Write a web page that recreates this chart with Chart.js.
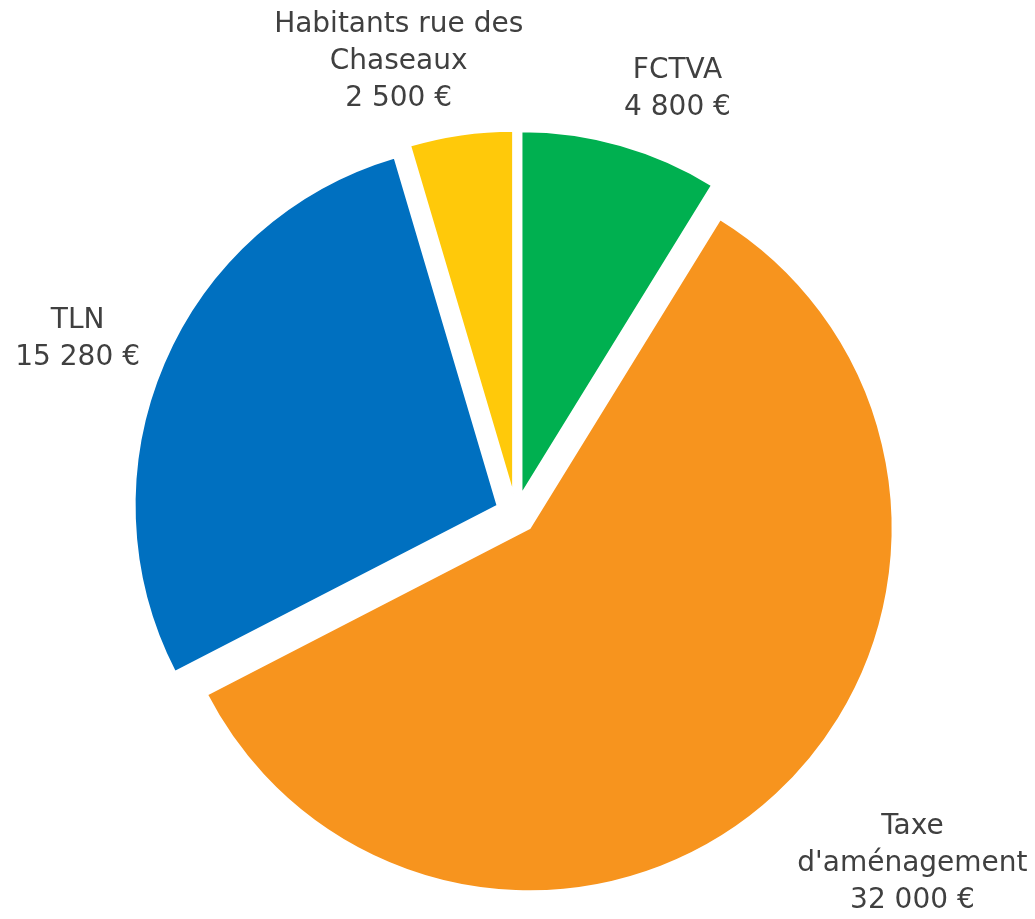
<!DOCTYPE html>
<html>
<head>
<meta charset="utf-8">
<script src="https://cdn.jsdelivr.net/npm/chart.js@4.4.0/dist/chart.umd.min.js"></script>
<style>
  html, body { margin: 0; padding: 0; background: #fff; }
  #wrap { width: 1035px; height: 919px; }
</style>
</head>
<body>
<div id="wrap"><canvas id="camembert"></canvas></div>
<script>
// Données du graphique
const libelles = [["FCTVA"], ["Taxe", "d'aménagement"], ["TLN"], ["Habitants rue des", "Chaseaux"]];
const montants = [4800, 32000, 15280, 2500];
const couleurs = ["#00B050", "#F7941E", "#0070C0", "#FFC90A"];

const formatEuro = (v) => v.toLocaleString("fr-FR").replace(/\s/g, " ") + " €";

// Écartement des parts (px), même valeur pour toutes comme dans Excel.
// L'option "offset" de Chart.js v4 grossit aussi le rayon, donc on
// déplace chaque arc nous-mêmes.
const ECLAT = 20;

const eclatement = {
  id: "eclatement",
  beforeDatasetDraw(chart, args) {
    const ctx = chart.ctx;
    args.meta.data.forEach((arc) => {
      const milieu = (arc.startAngle + arc.endAngle) / 2;
      ctx.save();
      ctx.translate(Math.cos(milieu) * ECLAT, Math.sin(milieu) * ECLAT);
      arc.draw(ctx);
      ctx.restore();
    });
    return false;
  }
};

// Position des étiquettes : décalage d'angle (degrés) et distance (x rayon)
const decalAngle = [5.0, -5.7, -1.4, -6.3];
const distRayon = [1.251, 1.458, 1.3, 1.287];

const etiquettes = {
  id: "etiquettes",
  afterDatasetsDraw(chart) {
    const ctx = chart.ctx;
    const meta = chart.getDatasetMeta(0);
    ctx.save();
    ctx.font = "28px 'DejaVu Sans'";
    ctx.fillStyle = "#404040";
    ctx.textAlign = "center";
    ctx.textBaseline = "middle";
    const hauteurLigne = 37;
    meta.data.forEach((arc, i) => {
      const p = arc.getProps(["x", "y", "startAngle", "endAngle", "outerRadius"], true);
      const milieu = (p.startAngle + p.endAngle) / 2 + decalAngle[i] * Math.PI / 180;
      const d = p.outerRadius * distRayon[i];
      const cx = p.x + Math.cos(milieu) * d;
      const cy = p.y + Math.sin(milieu) * d;
      const lignes = libelles[i].concat([formatEuro(montants[i])]);
      const y0 = cy - (lignes.length - 1) * hauteurLigne / 2;
      lignes.forEach((l, k) => ctx.fillText(l, cx, y0 + k * hauteurLigne));
    });
    ctx.restore();
  }
};

new Chart(document.getElementById("camembert"), {
  type: "pie",
  data: {
    labels: libelles.map((l) => l.join(" ")),
    datasets: [
      {
        data: montants,
        backgroundColor: couleurs,
        borderColor: "#ffffff",
        borderWidth: 2,
        offset: 0,
        hoverOffset: 0,
        radius: 363,
      },
    ],
  },
  options: {
    responsive: true,
    maintainAspectRatio: false,
    animation: false,
    layout: {
      padding: { left: 143.5, right: 146.5, top: 141, bottom: 33 },
    },
    plugins: {
      legend: { display: false },
      tooltip: { enabled: false },
    },
  },
  plugins: [eclatement, etiquettes],
});
</script>
</body>
</html>
